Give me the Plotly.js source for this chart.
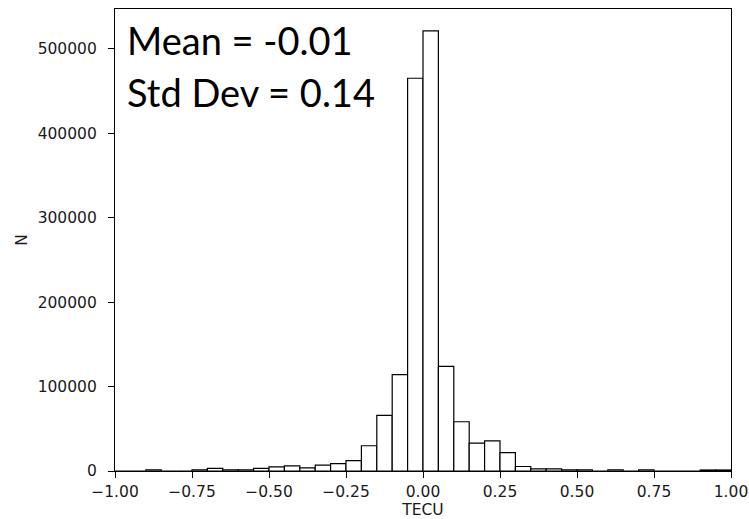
<!DOCTYPE html>
<html>
<head>
<meta charset="utf-8">
<script src="https://cdn.plot.ly/plotly-3.0.1.min.js"></script>
<style>
  html, body { margin: 0; padding: 0; background: #fff; }
  #chart { width: 749px; height: 519px; }
</style>
</head>
<body>
<div id="chart"></div>
<script>
// Histogram bins (left edges, width 0.05) and counts
const binLeft = [-1.00, -0.95, -0.90, -0.85, -0.80, -0.75, -0.70, -0.65, -0.60, -0.55,
                 -0.50, -0.45, -0.40, -0.35, -0.30, -0.25, -0.20, -0.15, -0.10, -0.05,
                  0.00,  0.05,  0.10,  0.15,  0.20,  0.25,  0.30,  0.35,  0.40,  0.45,
                  0.50,  0.55,  0.60,  0.65,  0.70,  0.75,  0.80,  0.85,  0.90,  0.95];
const counts = [0, 0, 1500, 0, 0, 1500, 3000, 1500, 1500, 3000,
                5000, 6000, 3800, 7000, 8800, 12400, 29900, 65800, 114000, 465000,
                521000, 123800, 58300, 33000, 35700, 21800, 5300, 2400, 2400, 1500,
                1500, 0, 1500, 0, 1500, 0, 0, 0, 1200, 1200];
const binWidth = 0.05;

const xTickVals = [-1.00, -0.75, -0.50, -0.25, 0.00, 0.25, 0.50, 0.75, 1.00];
const xTickText = ['\u22121.00', '\u22120.75', '\u22120.50', '\u22120.25', '0.00', '0.25', '0.50', '0.75', '1.00'];
const yTickVals = [0, 100000, 200000, 300000, 400000, 500000];
const yTickText = ['0', '100000', '200000', '300000', '400000', '500000'];

const statLines = ['Mean = -0.01', 'Std Dev = 0.14'];

const tickFont = { family: 'DejaVu Sans', size: 15.5, color: '#1a1a1a' };

const trace = {
  type: 'bar',
  x: binLeft,
  y: counts,
  width: binWidth,
  offset: 0,
  marker: { color: '#ffffff', line: { color: '#000000', width: 1.2 } },
  hoverinfo: 'x+y'
};

const layout = {
  width: 749,
  height: 519,
  margin: { l: 115, r: 18, t: 9, b: 48, pad: 0 },
  paper_bgcolor: '#ffffff',
  plot_bgcolor: '#ffffff',
  showlegend: false,
  bargap: 0,
  xaxis: {
    range: [-1, 1],
    tickvals: xTickVals,
    ticktext: xTickText,
    ticks: 'outside',
    ticklen: 6,
    tickwidth: 1,
    tickcolor: '#000',
    showline: true,
    linecolor: '#000',
    linewidth: 1.1,
    mirror: true,
    showgrid: false,
    zeroline: false,
    tickfont: tickFont,
    title: { text: 'TECU', font: tickFont },
    automargin: false
  },
  yaxis: {
    range: [0, 547000],
    tickvals: yTickVals,
    ticktext: yTickText,
    ticks: 'outside',
    ticklen: 6,
    tickwidth: 1,
    tickcolor: '#000',
    ticklabelstandoff: 8,
    showline: true,
    linecolor: '#000',
    linewidth: 1.1,
    mirror: true,
    showgrid: false,
    zeroline: false,
    tickfont: tickFont,
    title: { text: 'N', font: tickFont, standoff: 6 },
    automargin: true
  },
  annotations: [
    { xref: 'paper', yref: 'paper', x: 0.017, y: 0.933, xanchor: 'left', yanchor: 'middle',
      text: statLines[0], showarrow: false, font: { family: 'Lato', size: 38, color: '#000' } },
    { xref: 'paper', yref: 'paper', x: 0.017, y: 0.820, xanchor: 'left', yanchor: 'middle',
      text: statLines[1], showarrow: false, font: { family: 'Lato', size: 38, color: '#000' } }
  ]
};

Plotly.newPlot('chart', [trace], layout, { displayModeBar: false, staticPlot: true });
</script>
</body>
</html>
